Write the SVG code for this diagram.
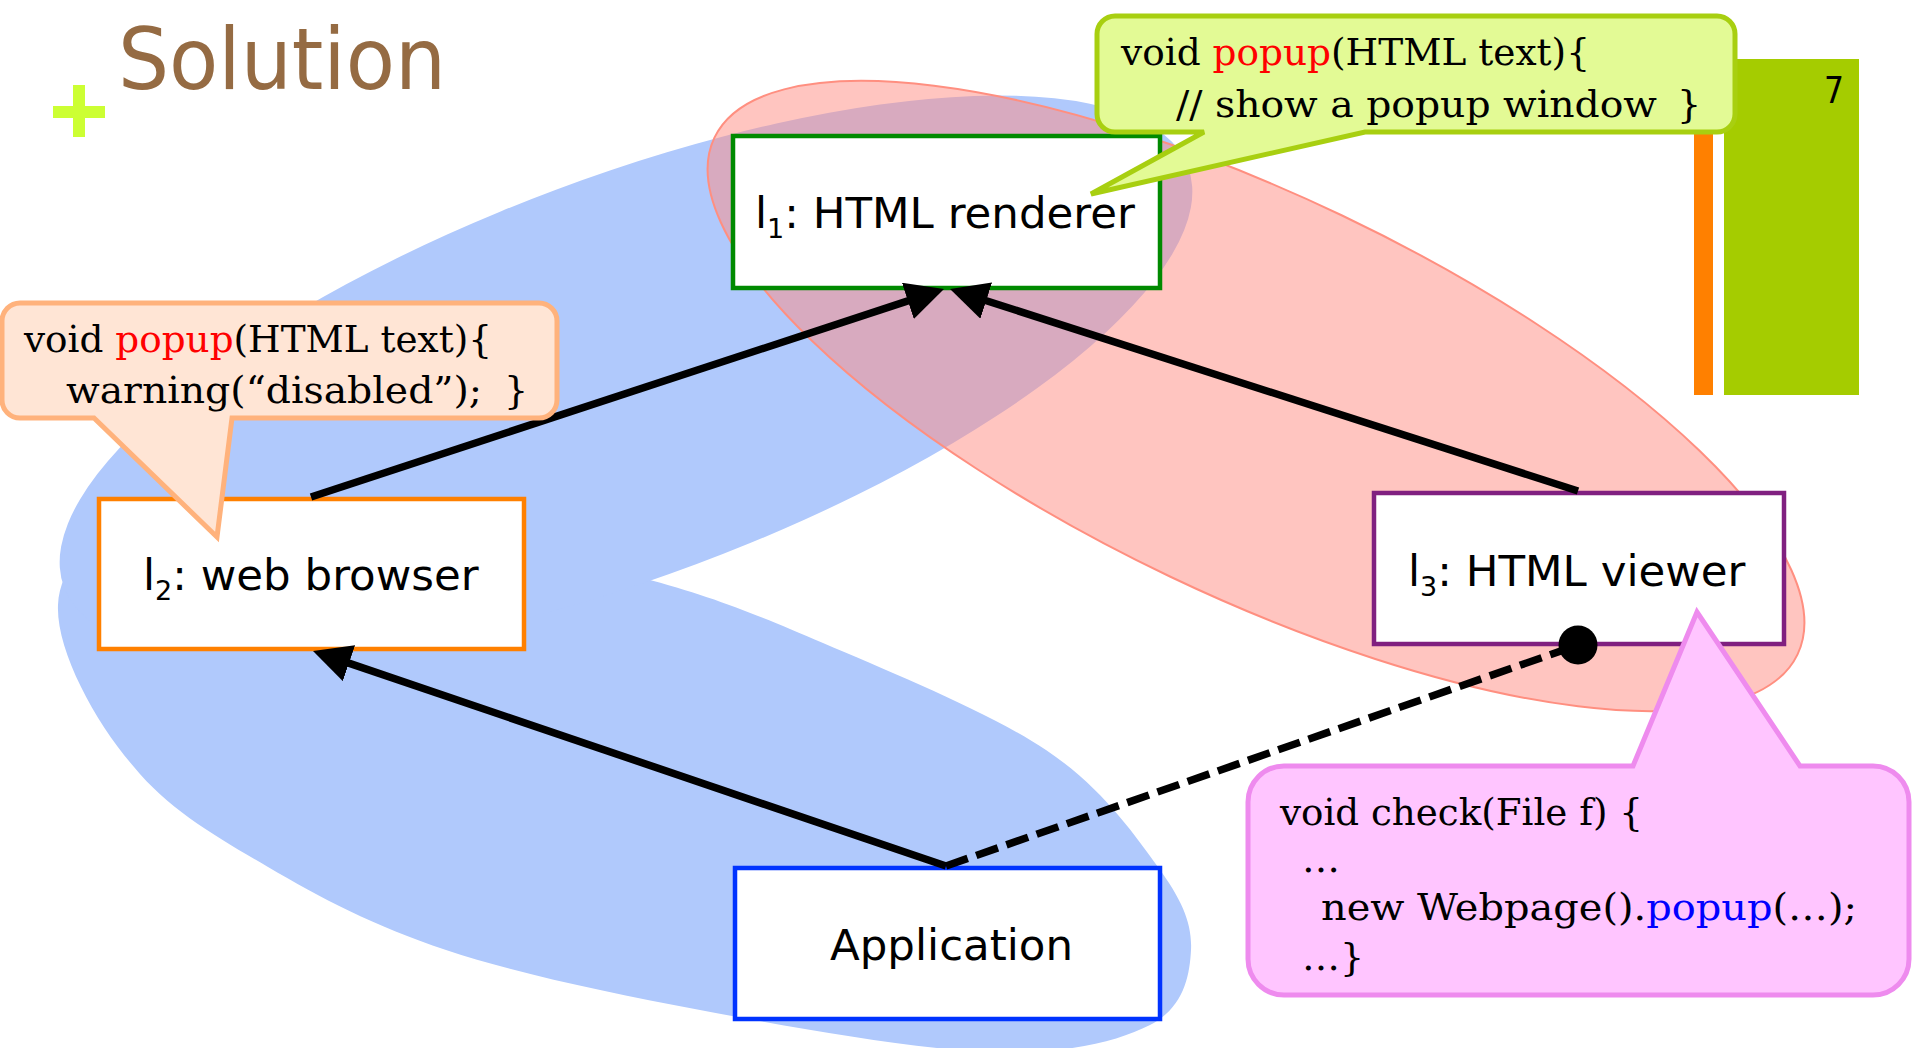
<svg xmlns="http://www.w3.org/2000/svg" width="1915" height="1048" viewBox="0 0 1915 1048">
  <style>
    .lbl{font-family:"DejaVu Sans",Verdana,sans-serif;font-size:43.5px;fill:#000}
    .sub{font-size:27px}
    .code{font-family:"DejaVu Serif","Liberation Serif",serif;font-size:38px;fill:#000}
    .kw{fill:#ff0000}
    .call{fill:#0000ff}
    .node{fill:#fff;stroke-width:4.5}
    .edge{stroke:#000;stroke-width:7.5;fill:none}
    .lobe{fill:#b0c9fc}
  </style>
  <defs>
    <marker id="ah" viewBox="0 0 38 38" refX="8" refY="19" markerWidth="38" markerHeight="38" markerUnits="userSpaceOnUse" orient="auto">
      <path d="M0,0 L38,19 L0,38 Z" fill="#000"/>
    </marker>
  </defs>

  <rect width="1915" height="1048" fill="#fff"/>

  <!-- grouping regions -->
  <g id="regions">
    <path class="lobe" d="M58,605 C56,650 95,722 134,767 C169,809.8 216,836.5 268,867 C320,897.5 374,926.2 446,950 C518,973.8 609.3,993 700,1010 C790.7,1027 915,1049.5 990,1052 C1065,1054.5 1116.5,1042 1150,1025 C1183.5,1008 1189.7,976.3 1191,950 C1192.3,923.7 1182.2,900.3 1158,867 C1133.8,833.7 1101.8,787.3 1046,750 C990.2,712.7 890.2,671.7 823,643 C755.8,614.3 713.5,596.8 643,578 C572.5,559.2 480.5,536.3 400,530 C319.5,523.7 200,520 140,530 C90,540 60,565 58,605 Z"/>
    <ellipse class="lobe" transform="translate(626 377) rotate(-20.5)" rx="600" ry="200"/>
    <ellipse transform="translate(1256 396) rotate(25.5)" rx="600" ry="200" fill="rgb(255,141,131)" fill-opacity="0.51" stroke="#ff8f80" stroke-width="2"/>
  </g>

  <!-- slide decoration -->
  <rect x="1694" y="120" width="19" height="275" fill="#ff8000"/>
  <rect x="1724" y="59" width="135" height="336" fill="#a5cc00"/>
  <text x="1824" y="103" font-family="DejaVu Sans,sans-serif" font-size="38" textLength="20" lengthAdjust="spacingAndGlyphs">7</text>

  <!-- nodes -->
  <g id="renderer">
    <rect class="node" x="733" y="136" width="427" height="152" stroke="#008a00"/>
    <text class="lbl" x="755" y="228">l<tspan class="sub" dy="10">1</tspan><tspan dy="-10">: HTML renderer</tspan></text>
  </g>
  <g id="browser">
    <rect class="node" x="99" y="499" width="425" height="150" stroke="#ff8000"/>
    <text class="lbl" x="143" y="590">l<tspan class="sub" dy="10">2</tspan><tspan dy="-10">: web browser</tspan></text>
  </g>
  <g id="viewer">
    <rect class="node" x="1374" y="493" width="410" height="151" stroke="#802080"/>
    <text class="lbl" x="1408" y="586">l<tspan class="sub" dy="10">3</tspan><tspan dy="-10">: HTML viewer</tspan></text>
  </g>
  <g id="application">
    <rect class="node" x="735" y="868" width="425" height="151" stroke="#0033ff"/>
    <text class="lbl" x="830" y="960" font-size="42">Application</text>
  </g>

  <!-- connectors -->
  <g id="connectors">
    <line class="edge" x1="311" y1="497" x2="915.5" y2="298.4" marker-end="url(#ah)"/>
    <line class="edge" x1="1578" y1="491" x2="978.6" y2="298.2" marker-end="url(#ah)"/>
    <line class="edge" x1="946" y1="866" x2="341.4" y2="660.6" marker-end="url(#ah)"/>
    <line class="edge" x1="946" y1="866" x2="1578" y2="645" stroke-dasharray="23 9"/>
    <circle cx="1578" cy="645" r="19.5" fill="#000"/>
  </g>

  <!-- code callouts -->
  <g id="note-browser">
    <path d="M20,303 H539 A18,18 0 0 1 557,321 V400 A18,18 0 0 1 539,418 H232 L217,537 L94,418 H20 A18,18 0 0 1 2,400 V321 A18,18 0 0 1 20,303 Z" fill="#ffe5d5" stroke="#ffb27c" stroke-width="5"/>
    <text class="code" x="24" y="352" textLength="468" lengthAdjust="spacingAndGlyphs">void <tspan class="kw">popup</tspan>(HTML text){</text>
    <text class="code" x="66" y="403" textLength="416" lengthAdjust="spacingAndGlyphs">warning(“disabled”);</text>
    <text class="code" x="504" y="403">}</text>
  </g>
  <g id="note-renderer">
    <path d="M1115,16 H1717 A18,18 0 0 1 1735,34 V114 A18,18 0 0 1 1717,132 H1365 L1091,194 L1204,132 H1115 A18,18 0 0 1 1097,114 V34 A18,18 0 0 1 1115,16 Z" fill="#e3fa95" stroke="#a8cf10" stroke-width="5"/>
    <text class="code" x="1121" y="65" textLength="469" lengthAdjust="spacingAndGlyphs">void <tspan class="kw">popup</tspan>(HTML text){</text>
    <text class="code" x="1176" y="117" textLength="481" lengthAdjust="spacingAndGlyphs">// show a popup window</text>
    <text class="code" x="1677" y="117">}</text>
  </g>
  <g id="note-viewer">
    <path d="M1284,766 H1633 L1697,612 L1800,766 H1873 A36,36 0 0 1 1909,802 V959 A36,36 0 0 1 1873,995 H1284 A36,36 0 0 1 1248,959 V802 A36,36 0 0 1 1284,766 Z" fill="#ffc5ff" stroke="#ee8bee" stroke-width="5"/>
    <text class="code" x="1280" y="825" textLength="363" lengthAdjust="spacingAndGlyphs">void check(File f) {</text>
    <text class="code" x="1302" y="872">…</text>
    <text class="code" x="1321" y="920" textLength="536" lengthAdjust="spacingAndGlyphs">new Webpage().<tspan class="call">popup</tspan>(…);</text>
    <text class="code" x="1302" y="970">…}</text>
  </g>

  <!-- title -->
  <g id="title">
    <rect x="53" y="106" width="52" height="12" fill="#ccff33"/>
    <rect x="73" y="85" width="12" height="52" fill="#ccff33"/>
    <text x="118" y="89" font-family="DejaVu Sans,sans-serif" font-size="86" fill="#956b43" textLength="328" lengthAdjust="spacingAndGlyphs">Solution</text>
  </g>
</svg>
